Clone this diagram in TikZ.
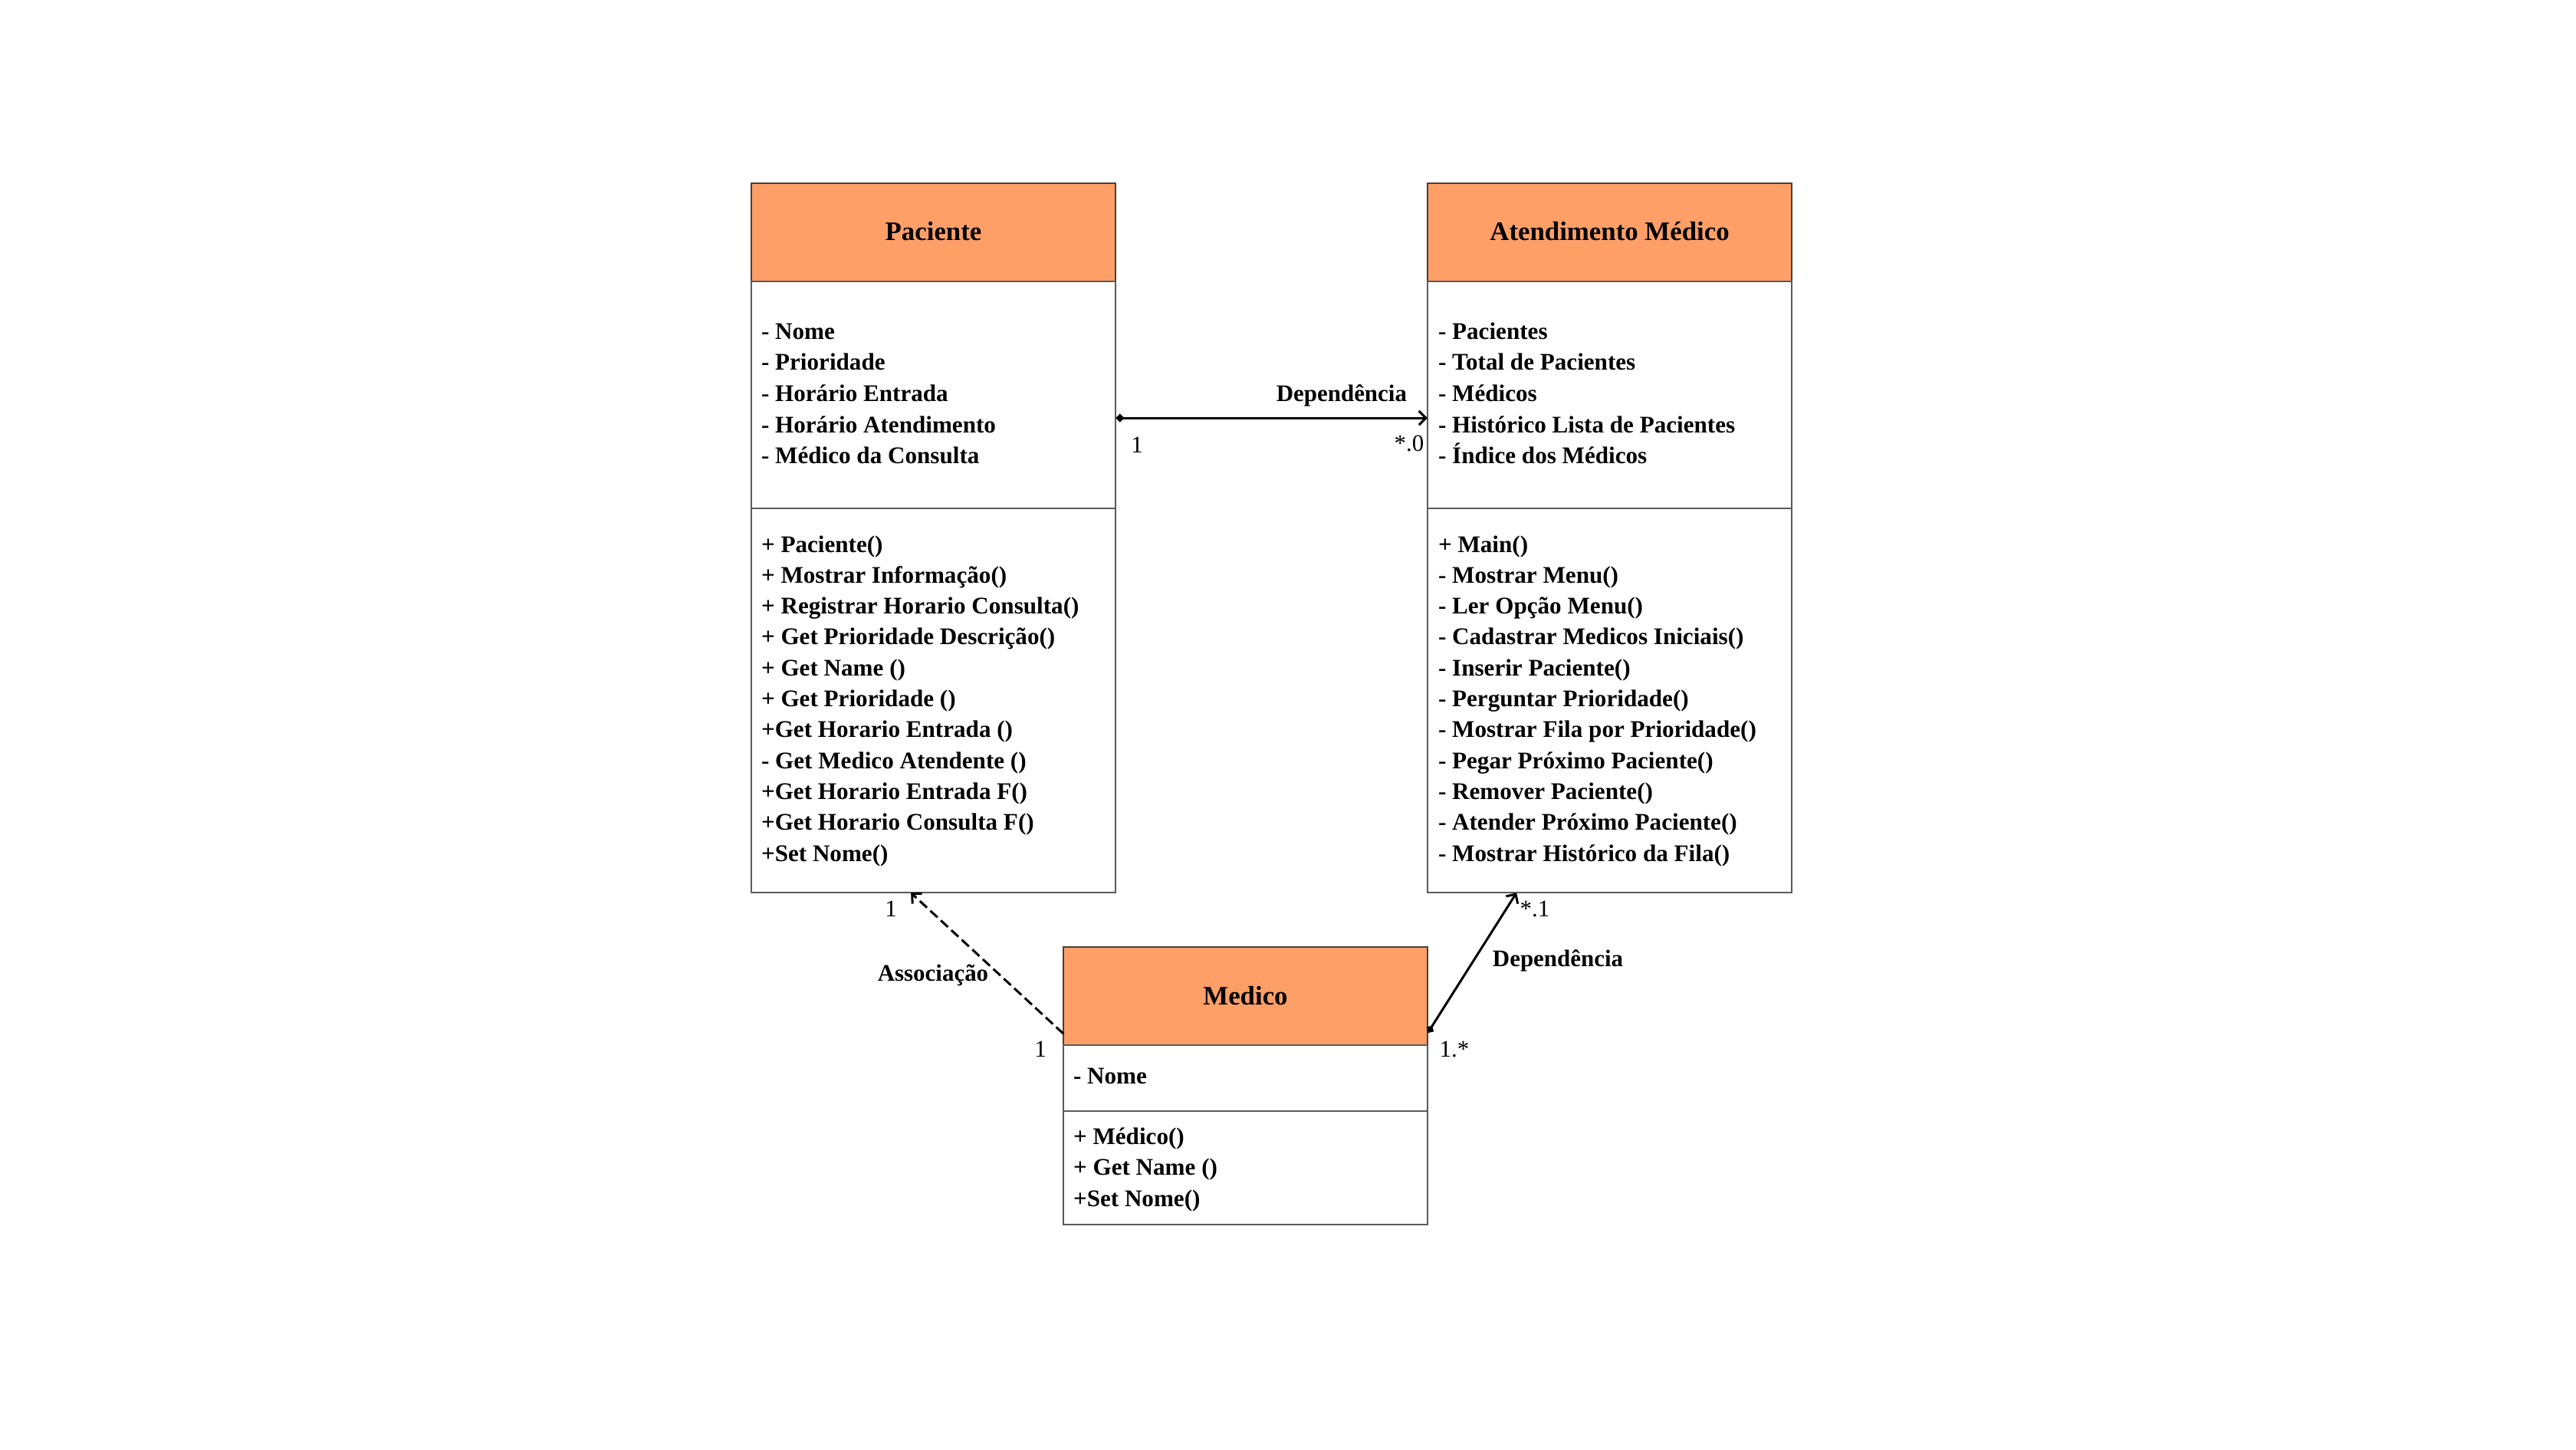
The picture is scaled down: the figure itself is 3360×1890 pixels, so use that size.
\documentclass[tikz,border=0pt]{standalone}
\usepackage{fontspec}
\setmainfont{Liberation Serif}
\usetikzlibrary{arrows.meta}
\definecolor{hdr}{HTML}{FF9F68}
\definecolor{bord}{HTML}{5A5A5A}
\tikzset{
  every node/.style={inner sep=0pt, outer sep=0pt},
  compart/.style={draw=bord, line width=0.6pt, anchor=north west, minimum width=4.75cm},
  hdrbox/.style={compart, fill=hdr, draw=bord!80!hdr!60!black},
  classtitle/.style={font=\fontsize{9.9}{12}\selectfont\bfseries, anchor=base},
  entry/.style={font=\fontsize{8.85}{10}\selectfont\bfseries, anchor=base west},
  mult/.style={font=\fontsize{8.8}{10}\selectfont},
  rellabel/.style={font=\fontsize{8.8}{10}\selectfont\bfseries},
  conn/.style={line width=0.85pt, black},
  opentip/.style={-{Straight Barb[length=2.6pt,width=5.2pt]}},
  diamtip/.style={{Diamond[length=3.2pt,width=3.2pt]}-{Straight Barb[length=2.6pt,width=5.2pt]}},
  dashline/.style={dash pattern=on 3.6pt off 1.7pt}
}
\begin{document}
\begin{tikzpicture}[x=0.01cm, y=-0.01cm]
\useasboundingbox (0,0) rectangle (3360,1890);

% Paciente
\node[hdrbox, minimum height=1.28cm] (phead) at (980,239) {};
\node[compart, minimum height=2.96cm] (pattr) at (980,367) {};
\node[compart, minimum height=5.01cm] (pmeth) at (980,663) {};
\node[classtitle] (ptitle) at (1217.5,313) {Paciente};
\foreach \t [count=\i] in {- Nome, - Prioridade, - Horário Entrada, - Horário Atendimento, - Médico da Consulta}
  \node[entry] (pa\i) at (993,{442+40.7*(\i-1)}) {\t};
\foreach \t [count=\i] in {+ Paciente(), + Mostrar Informação(), + Registrar Horario Consulta(), + Get Prioridade Descrição(), + Get Name (), + Get Prioridade (), +Get Horario Entrada (), - Get Medico Atendente (), +Get Horario Entrada F(), +Get Horario Consulta F(), +Set Nome()}
  \node[entry] (pm\i) at (993,{720+40.3*(\i-1)}) {\t};

% Atendimento Medico
\node[hdrbox, minimum height=1.28cm] (ahead) at (1862,239) {};
\node[compart, minimum height=2.96cm] (aattr) at (1862,367) {};
\node[compart, minimum height=5.01cm] (ameth) at (1862,663) {};
\node[classtitle] (atitle) at (2099.5,313) {Atendimento Médico};
\foreach \t [count=\i] in {- Pacientes, - Total de Pacientes, - Médicos, - Histórico Lista de Pacientes, - Índice dos Médicos}
  \node[entry] (aa\i) at (1876,{442+40.7*(\i-1)}) {\t};
\foreach \t [count=\i] in {+ Main(), - Mostrar Menu(), - Ler Opção Menu(), - Cadastrar Medicos Iniciais(), - Inserir Paciente(), - Perguntar Prioridade(), - Mostrar Fila por Prioridade(), - Pegar Próximo Paciente(), - Remover Paciente(), - Atender Próximo Paciente(), - Mostrar Histórico da Fila()}
  \node[entry] (am\i) at (1876,{720+40.3*(\i-1)}) {\t};

% Medico
\node[hdrbox, minimum height=1.28cm] (mhead) at (1387,1235) {};
\node[compart, minimum height=0.86cm] (mattr) at (1387,1363) {};
\node[compart, minimum height=1.48cm] (mmeth) at (1387,1449) {};
\node[classtitle] (mtitle) at (1624.5,1310) {Medico};
\node[entry] (ma1) at (1400,1413) {- Nome};
\foreach \t [count=\i] in {+ Médico(), + Get Name (), +Set Nome()}
  \node[entry] (mm\i) at (1400,{1492+40.5*(\i-1)}) {\t};

% Connectors
\draw[conn, diamtip] ([yshift=-0.3cm]pattr.east) -- ([yshift=-0.3cm]aattr.west);
\node[rellabel, anchor=base east] (l1) at (1835,523) {Dependência};
\node[mult] (m1) at (1483,580) {1};
\node[mult] (m2) at (1838,578) {*.0};

\draw[conn, diamtip] ([yshift=-0.48cm]mhead.east) -- ([xshift=-1.215cm]ameth.south);
\node[rellabel] (l2) at (2032,1253) {Dependência};
\node[mult] (m3) at (2002,1185) {*.1};
\node[mult] (m4) at (1897,1368) {1.*};

\draw[conn, dashline, opentip] ([yshift=-0.49cm]mhead.west) -- ([xshift=-0.295cm]pmeth.south);
\node[rellabel] (l3) at (1217,1272) {Associação};
\node[mult] (m5) at (1162,1185) {1};
\node[mult] (m6) at (1357,1368) {1};
\end{tikzpicture}
\end{document}
